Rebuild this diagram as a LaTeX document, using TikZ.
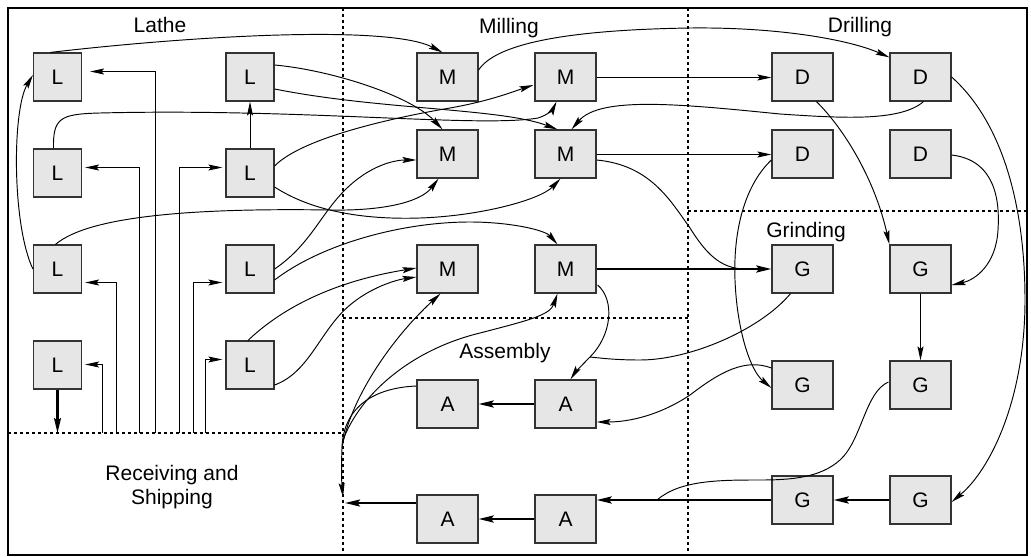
\documentclass[tikz,border=0pt]{standalone}
\usepackage{fontspec}
\setmainfont{Liberation Sans}
\usetikzlibrary{arrows.meta,calc}
\definecolor{boxfill}{HTML}{E6E6E6}
\definecolor{boxdraw}{HTML}{333333}
\begin{document}
\begin{tikzpicture}[x=1pt,y=-1pt,
  box/.style={draw=boxdraw,fill=boxfill,line width=1.2pt,minimum height=48pt,inner sep=0pt,font=\fontsize{21}{25}\selectfont},
  lbox/.style={box,minimum width=48pt},
  wbox/.style={box,minimum width=61pt},
  lab/.style={font=\fontsize{21}{25}\selectfont,inner sep=0pt,anchor=base},
  divider/.style={line width=1.2pt,dash pattern=on 3pt off 3pt},
  conn/.style={line width=0.95pt},
  arr/.style={conn,-{Stealth[length=14pt,width=6pt,inset=2.5pt]}},
  tarr/.style={line width=2.2pt,-{Stealth[length=15pt,width=7pt,inset=2.5pt]}}
]
\useasboundingbox (0,0) rectangle (1031,557);
\draw[line width=2pt] (8,8) rectangle (1027,555);
% dividers
\draw[divider] (343,8) -- (343,555);
\draw[divider] (688,8) -- (688,555);
\draw[divider] (8,433) -- (343,433);
\draw[divider] (343,318) -- (688,318);
\draw[divider] (688,211) -- (1027,211);
% labels
\node[lab] (tLathe) at (160,32) {Lathe};
\node[lab] (tMill) at (509,33) {Milling};
\node[lab] (tDrill) at (860,32) {Drilling};
\node[lab] (tGrind) at (806,237) {Grinding};
\node[lab] (tAsm) at (505,358) {Assembly};
\node[lab] (tRec) at (172,480) {Receiving and};
\node[lab] (tShip) at (172,504) {Shipping};
% boxes
\node[lbox] (L1) at (57.5,77) {L};
\node[lbox] (L2) at (250,77) {L};
\node[lbox] (L3) at (57.5,173) {L};
\node[lbox] (L4) at (250,173) {L};
\node[lbox] (L5) at (57.5,269) {L};
\node[lbox] (L6) at (250,269) {L};
\node[lbox] (L7) at (57.5,365) {L};
\node[lbox] (L8) at (250,365) {L};
\node[wbox] (M1) at (447.5,77) {M};
\node[wbox] (M2) at (565.5,77) {M};
\node[wbox] (M3) at (447.5,154) {M};
\node[wbox] (M4) at (565.5,154) {M};
\node[wbox] (M5) at (447.5,269) {M};
\node[wbox] (M6) at (565.5,269) {M};
\node[wbox] (A1) at (447.5,404) {A};
\node[wbox] (A2) at (565.5,404) {A};
\node[wbox] (A3) at (447.5,519) {A};
\node[wbox] (A4) at (565.5,519) {A};
\node[wbox] (D1) at (802.5,77) {D};
\node[wbox] (D2) at (920.5,77) {D};
\node[wbox] (D3) at (802.5,154) {D};
\node[wbox] (D4) at (920.5,154) {D};
\node[wbox] (G1) at (802.5,269) {G};
\node[wbox] (G2) at (920.5,269) {G};
\node[wbox] (G3) at (802.5,385) {G};
\node[wbox] (G4) at (920.5,385) {G};
\node[wbox] (G5) at (802.5,500) {G};
\node[wbox] (G6) at (920.5,500) {G};
% coordinates
\coordinate (r1) at (102.5,433);
\coordinate (r2) at (116.5,433);
\coordinate (r3) at (139.5,433);
\coordinate (r4) at (155.5,433);
\coordinate (r5) at (179.5,433);
\coordinate (r6) at (193.5,433);
\coordinate (r7) at (205.5,433);
\coordinate (rdown) at (57.5,433);
\coordinate (exA) at (343,497);
\coordinate (exB) at (345,503);
\coordinate (mg) at (342,448);
\coordinate (jG1) at (745,269);
\coordinate (jA2) at (590,357);
\coordinate (jA4) at (657,500);
% receiving feeders
\draw[arr,shorten >=3pt] (r1) |- ($(L7.east)+(0,-0.5)$);
\draw[arr,shorten >=3pt] (r2) |- ($(L5.east)+(0,13.5)$);
\draw[arr,shorten >=3pt] (r3) |- ($(L3.east)+(0,-5.5)$);
\draw[arr,shorten >=8pt] (r4) |- ($(L1.east)+(0,-5.5)$);
\draw[arr,shorten >=3pt] (r5) |- ($(L4.west)+(0,-5.5)$);
\draw[arr,shorten >=3pt] (r6) |- ($(L6.west)+(0,13.5)$);
\draw[arr,shorten >=3pt] (r7) |- ($(L8.west)+(0,-5.5)$);
\draw[tarr] (L7.south) -- (rdown);
% straight connectors
\draw[arr] (L4.north) -- (L2.south);
\draw[arr] ($(M2.east)+(0,0.5)$) -- ($(D1.west)+(0,0.5)$);
\draw[arr] ($(M4.east)+(0,0.5)$) -- ($(D3.west)+(0,0.5)$);
\draw[arr] (G2.south) -- (G4.north);
\draw[tarr] (M6.east) -- (G1.west);
\draw[tarr] (G6.west) -- (G5.east);
\draw[tarr] (G5.west) -- (G5.west -| A4.east);
\draw[tarr] (A4.west) -- (A3.east);
\draw[tarr] (A2.west) -- (A1.east);
\draw[tarr] ($(A3.west)+(0,-16)$) -- (exB);
% curves from lathes
\draw[arr] ($(L1.north)+(-7,0)$) .. controls (200,35) and (390,25) .. ($(M1.north)+(-5,0)$);
\draw[arr] (L5.west) .. controls (12,225) and (12,110) .. ($(L1.west)+(0,-2)$);
\draw[arr] ($(L3.north)+(-4,0)$) .. controls (53,118) and (60,114) .. (100,113) .. controls (300,108) and (480,128) .. (538,118) .. controls (548,115) and (553,109) .. ($(M2.south)+(-9,0)$);
\draw[arr] ($(L2.east)+(0,-12)$) .. controls (330,70) and (410,95) .. ($(M3.north)+(-5,0)$);
\draw[arr] ($(L2.east)+(0,12)$) .. controls (380,110) and (500,108) .. ($(M4.north)+(-8,0)$);
\draw[arr] ($(L4.east)+(0,-7)$) .. controls (300,140) and (380,120) .. (450,108) .. controls (490,101) and (515,91) .. ($(M2.west)+(-1,8)$);
\draw[arr] ($(L4.east)+(0,14)$) .. controls (310,210) and (360,220) .. (420,218) .. controls (480,216) and (540,200) .. ($(M4.south)+(-5,0)$);
\draw[arr] ($(L5.north)+(-2,0)$) .. controls (90,215) and (200,208) .. (330,210) .. controls (380,211) and (420,203) .. ($(M3.south)+(-9,0)$);
\draw[arr] (L6.east) .. controls (310,245) and (320,215) .. (345,190) .. controls (370,165) and (395,160) .. ($(M3.west)+(0,6)$);
\draw[arr] ($(L6.east)+(0,11)$) .. controls (320,245) and (400,222) .. (470,222) .. controls (510,222) and (545,230) .. ($(M6.north)+(-8,0)$);
\draw[arr] ($(L8.north)+(-2,0)$) .. controls (280,310) and (330,282) .. ($(M5.west)+(0,-1)$);
\draw[arr] ($(L8.east)+(0,20)$) .. controls (310,372) and (320,330) .. (350,305) .. controls (370,288) and (395,280) .. ($(M5.west)+(0,8)$);
% milling / drilling / grinding curves
\draw[arr] ($(M1.east)+(0,-7)$) .. controls (495,45) and (560,30) .. (690,28) .. controls (780,27) and (850,40) .. ($(D2.north west)+(0,5)$);
\draw[arr] ($(D2.south)+(3,0)$) .. controls (900,122) and (840,118) .. (780,114) .. controls (680,104) and (600,96) .. ($(M4.north)+(6,0)$);
\draw[conn] ($(M4.east)+(0,6)$) .. controls (650,165) and (670,200) .. (690,228) .. controls (705,252) and (720,269) .. (jG1);
\draw[arr] ($(D1.south)+(14,0)$) .. controls (845,130) and (875,180) .. (G2.north west);
\draw[arr] ($(D4.east)+(0,1)$) .. controls (995,160) and (1000,200) .. (998,230) .. controls (996,265) and (975,280) .. ($(G2.east)+(0,16)$);
\draw[arr] (D2.east) .. controls (1000,120) and (1025,200) .. (1025,300) .. controls (1025,400) and (990,470) .. ($(G6.east)+(0,2)$);
\draw[arr] ($(D3.west)+(0,6)$) .. controls (745,185) and (733,230) .. (735,280) .. controls (737,330) and (750,370) .. ($(G3.west)+(0,3)$);
\draw[arr] ($(G3.west)+(0,-17)$) .. controls (745,358) and (720,372) .. (690,395) .. controls (660,415) and (630,422) .. ($(A2.east)+(0,18)$);
\draw[conn] ($(G1.south)+(-12,0)$) .. controls (760,330) and (690,360) .. (640,360) .. controls (615,360) and (600,358) .. (jA2);
\draw[arr] ($(M6.east)+(1,16)$) .. controls (615,300) and (612,335) .. (jA2) .. controls (580,367) and (574,374) .. ($(A2.north)+(5,0)$);
\draw[conn] ($(G4.west)+(-1,-3)$) .. controls (865,392) and (862,440) .. (840,460) .. controls (820,478) and (790,480) .. (760,480) .. controls (720,480) and (680,480) .. (jA4);
% assembly exit bundle
\draw[arr] ($(A1.west)+(0,-18)$) .. controls (370,388) and (343,410) .. (mg) .. controls (341,472) and (342,487) .. (exA);
\draw[arr] (mg) .. controls (350,400) and (390,340) .. ($(M5.south)+(-7,0)$);
\draw[arr] ($(mg)+(1,-8)$) .. controls (360,395) and (410,350) .. (480,333) .. controls (530,320) and (550,315) .. ($(M6.south)+(-8,0)$);
\end{tikzpicture}
\end{document}
